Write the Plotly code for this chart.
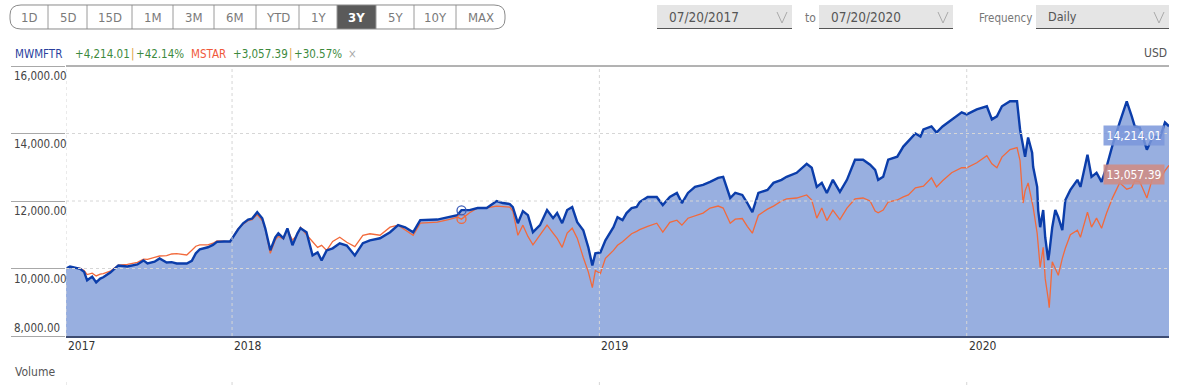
import plotly.graph_objects as go

# ---------------- data ----------------
dates = [
    "2017-07-20", "2017-07-24", "2017-07-30", "2017-08-03", "2017-08-07", "2017-08-10", "2017-08-15",
    "2017-08-19", "2017-08-23", "2017-08-26", "2017-09-02", "2017-09-10", "2017-09-19", "2017-09-29",
    "2017-10-05", "2017-10-09", "2017-10-16", "2017-10-21", "2017-10-28", "2017-11-02", "2017-11-07",
    "2017-11-12", "2017-11-17", "2017-11-22", "2017-11-26", "2017-11-30", "2017-12-08", "2017-12-13",
    "2017-12-17", "2017-12-24", "2017-12-30", "2018-01-02", "2018-01-07", "2018-01-12", "2018-01-17",
    "2018-01-21", "2018-01-26", "2018-01-31", "2018-02-03", "2018-02-08", "2018-02-13", "2018-02-16",
    "2018-02-21", "2018-02-25", "2018-03-02", "2018-03-07", "2018-03-10", "2018-03-16", "2018-03-22",
    "2018-03-27", "2018-03-31", "2018-04-05", "2018-04-11", "2018-04-18", "2018-04-25", "2018-05-03",
    "2018-05-11", "2018-05-18", "2018-05-28", "2018-06-07", "2018-06-15", "2018-06-22", "2018-06-30",
    "2018-07-07", "2018-07-14", "2018-07-24", "2018-08-04", "2018-08-13", "2018-08-17", "2018-08-25",
    "2018-09-02", "2018-09-11", "2018-09-21", "2018-09-27", "2018-10-04", "2018-10-07", "2018-10-12",
    "2018-10-17", "2018-10-22", "2018-10-27", "2018-11-03", "2018-11-10", "2018-11-16", "2018-11-20",
    "2018-11-25", "2018-11-30", "2018-12-05", "2018-12-10", "2018-12-16", "2018-12-21", "2018-12-25",
    "2018-12-28", "2019-01-02", "2019-01-07", "2019-01-15", "2019-01-19", "2019-01-24", "2019-01-28",
    "2019-02-02", "2019-02-07", "2019-02-10", "2019-02-18", "2019-02-27", "2019-03-05", "2019-03-12",
    "2019-03-19", "2019-03-24", "2019-03-30", "2019-04-06", "2019-04-14", "2019-04-21", "2019-04-29",
    "2019-05-04", "2019-05-11", "2019-05-16", "2019-05-23", "2019-05-28", "2019-06-02", "2019-06-08",
    "2019-06-17", "2019-06-23", "2019-07-01", "2019-07-06", "2019-07-16", "2019-07-26", "2019-07-31",
    "2019-08-05", "2019-08-10", "2019-08-15", "2019-08-21", "2019-08-28", "2019-09-04", "2019-09-12",
    "2019-09-20", "2019-09-27", "2019-10-02", "2019-10-05", "2019-10-10", "2019-10-15", "2019-10-24",
    "2019-10-30", "2019-11-04", "2019-11-11", "2019-11-16", "2019-11-19", "2019-11-27", "2019-12-02",
    "2019-12-08", "2019-12-17", "2019-12-27", "2020-01-01", "2020-01-11", "2020-01-21", "2020-01-26",
    "2020-01-31", "2020-02-05", "2020-02-13", "2020-02-20", "2020-02-23", "2020-02-26", "2020-02-28",
    "2020-03-02", "2020-03-06", "2020-03-07", "2020-03-11", "2020-03-12", "2020-03-14", "2020-03-17",
    "2020-03-19", "2020-03-22", "2020-03-23", "2020-03-26", "2020-03-29", "2020-04-01", "2020-04-05",
    "2020-04-08", "2020-04-13", "2020-04-20", "2020-04-23", "2020-04-30", "2020-05-04", "2020-05-09",
    "2020-05-14", "2020-05-19", "2020-05-25", "2020-06-01", "2020-06-08", "2020-06-13", "2020-06-16",
    "2020-06-21", "2020-06-28", "2020-07-04", "2020-07-11", "2020-07-16", "2020-07-20",
]
mwmftr = [
    10000, 10060, 10020, 9990, 9900, 9650, 9760, 9590, 9700, 9740, 9880, 10090, 10060, 10120,
    10240, 10150, 10200, 10300, 10180, 10190, 10150, 10140, 10150, 10230, 10450, 10570, 10630, 10700,
    10790, 10800, 10800, 10930, 11160, 11340, 11450, 11480, 11670, 11490, 11190, 10540, 10920, 11040,
    10900, 11190, 10690, 11040, 11194, 11075, 10388, 10478, 10239, 10537, 10597, 10746, 10680, 10388,
    10750, 10836, 10895, 11075, 11284, 11220, 11075, 11433, 11433, 11450, 11522, 11582, 11731, 11731,
    11791, 11791, 12000, 11940, 11910, 11821, 11343, 11701, 11582, 11075, 11284, 11731, 11492, 11642,
    11343, 11731, 11821, 11373, 11134, 10627, 10090, 10448, 10478, 10836, 11224, 11522, 11433, 11642,
    11791, 11821, 11970, 12119, 12119, 11881, 12119, 12239, 11940, 12239, 12418, 12478, 12567, 12686,
    12716, 12089, 12239, 12179, 11940, 11672, 12239, 12328, 12537, 12627, 12716, 12836, 13104, 12985,
    12418, 12537, 12239, 12627, 12269, 12627, 13224, 13224, 13075, 12925, 12627, 12716, 13224, 13313,
    13612, 13761, 14000, 13910, 14119, 14209, 14030, 14209, 14418, 14627, 14567, 14716, 14806, 14418,
    14507, 14806, 14955, 14955, 14119, 13612, 13313, 13880, 13433, 13015, 12418, 11731, 11224, 11731,
    10925, 10250, 10450, 11224, 11731, 11522, 11134, 12030, 12328, 12627, 12418, 13373, 12716, 12836,
    12567, 13015, 13672, 14328, 14955, 14507, 14209, 14179, 13522, 13910, 13880, 14328, 14214.01,
]
mstar = [
    10000, 10040, 10020, 10000, 9940, 9820, 9860, 9780, 9830, 9850, 9920, 10100, 10120, 10180,
    10280, 10270, 10330, 10370, 10380, 10430, 10440, 10410, 10400, 10540, 10660, 10700, 10700, 10750,
    10820, 10810, 10790, 10940, 11180, 11310, 11420, 11450, 11600, 11420, 11170, 10450, 10850, 10950,
    10880, 11150, 10840, 11000, 11224, 11000, 10800, 10627, 10687, 10537, 10800, 10925, 10776, 10650,
    10985, 11030, 10985, 11224, 11284, 11134, 10985, 11343, 11360, 11373, 11450, 11522, 11463, 11650,
    11791, 11800, 11851, 11840, 11821, 11700, 10985, 11284, 10950, 10700, 11000, 11284, 11050, 10895,
    10627, 11050, 11194, 10900, 10328, 9900, 9433, 9940, 9851, 10299, 10537, 10687, 10790, 10895,
    11030, 11100, 11150, 11250, 11343, 11075, 11370, 11430, 11284, 11490, 11550, 11640, 11791, 11851,
    11791, 11343, 11460, 11480, 11250, 11045, 11580, 11760, 11850, 12000, 12060, 12089, 12179, 12030,
    11492, 11791, 11420, 11731, 11450, 11791, 12060, 12089, 12000, 11700, 11650, 11731, 11970, 12030,
    12120, 12180, 12388, 12418, 12440, 12686, 12418, 12600, 12836, 12985, 12985, 13134, 13343, 13100,
    12985, 13300, 13522, 13582, 13200, 11940, 12300, 12537, 12000, 11821, 11045, 10600, 10030, 10627,
    9700, 9100, 8836, 10200, 9990, 9800, 10300, 10600, 11000, 11134, 10925, 11672, 11224, 11492,
    11194, 11642, 12100, 12537, 12350, 12400, 12600, 12567, 12089, 12716, 12627, 12900, 13057.39,
]
event_dates = ["2018-08-17"]
event_mwmftr = [11720]
event_mstar = [11470]

y_tick_vals = [8000, 10000, 12000, 14000, 16000]
y_tick_text = ["8,000.00", "10,000.00", "12,000.00", "14,000.00", "16,000.00"]
x_tick_vals = ["2017-07-20", "2018-01-01", "2019-01-01", "2020-01-01"]
x_tick_text = ["2017", "2018", "2019", "2020"]

range_buttons = ["1D", "5D", "15D", "1M", "3M", "6M", "YTD", "1Y", "3Y", "5Y", "10Y", "MAX"]
selected_range = "3Y"
start_label, end_label, frequency = "07/20/2017", "07/20/2020", "Daily"
series_names = ["MWMFTR", "MSTAR"]

# ---------------- layout geometry ----------------
W, H = 1181, 387
L, R, T, B = 66, 12, 66, 51
PW, PH = W - L - R, H - T - B
FONT = "'Liberation Sans Narrow', 'DejaVu Sans Condensed', sans-serif"

def px(x):
    return (x - L) / PW

def py(y):
    return (H - B - y) / PH

BLUE = "#0b3daa"
FILL = "#98afe0"
ORANGE = "#f26a3c"
GREEN = "#3d8a3d"

fig = go.Figure()
fig.add_trace(go.Scatter(x=dates, y=mwmftr, mode="lines", line=dict(width=0, color=BLUE),
                         fill="tozeroy", fillcolor=FILL, hoverinfo="skip", showlegend=False))
fig.add_trace(go.Scatter(x=dates, y=mstar, mode="lines", name=series_names[1],
                         line=dict(width=1.3, color=ORANGE), showlegend=False))
fig.add_trace(go.Scatter(x=dates, y=mwmftr, mode="lines", name=series_names[0],
                         line=dict(width=2.4, color=BLUE), showlegend=False))
fig.add_trace(go.Scatter(x=event_dates, y=event_mstar, mode="markers", showlegend=False,
                         marker=dict(symbol="circle-open", size=9, color=ORANGE, line=dict(width=1.3))))
fig.add_trace(go.Scatter(x=event_dates, y=event_mwmftr, mode="markers", showlegend=False,
                         marker=dict(symbol="circle-open", size=9, color="#3a5bb8", line=dict(width=1.3))))

shapes = []
ann = []

# gridlines (drawn above the fill like in the reference)
for v in y_tick_vals[1:-1]:
    shapes.append(dict(type="line", xref="paper", yref="y", x0=0, x1=1, y0=v, y1=v,
                       line=dict(color="#d6d6d6", width=1, dash="dot"), layer="above"))
for d in x_tick_vals:
    shapes.append(dict(type="line", xref="x", yref="paper", x0=d, x1=d, y0=0, y1=1,
                       line=dict(color="#d6d6d6", width=1, dash="dot"), layer="above"))
    shapes.append(dict(type="line", xref="x", yref="paper", x0=d, x1=d, y0=py(382), y1=py(390),
                       line=dict(color="#d6d6d6", width=1, dash="dot"), layer="above"))
# top border of the plot
shapes.append(dict(type="line", xref="paper", yref="paper", x0=0, x1=px(1169), y0=1, y1=1,
                   line=dict(color="#666666", width=1)))

# y tick labels (left aligned, below their tick line; bottom one above)
for v, t in zip(y_tick_vals, y_tick_text):
    ann.append(dict(x=px(12), xref="paper", xanchor="left", y=v, yref="y", yanchor="middle",
                    yshift=(8 if v == y_tick_vals[0] else -10), text=t, showarrow=False,
                    font=dict(family=FONT, size=11.5, color="#444444")))
# x tick labels (left aligned at their gridline)
for d, t in zip(x_tick_vals, x_tick_text):
    ann.append(dict(x=d, xref="x", xanchor="left", xshift=0, y=py(346), yref="paper", yanchor="middle",
                    text=t, showarrow=False, font=dict(family=FONT, size=12, color="#333333")))

# ---------------- range buttons ----------------
edges = [10, 48, 87, 132, 173, 214, 256, 299, 337, 376, 414, 456, 505]
by0, by1 = 5, 29
for i, lab in enumerate(range_buttons):
    xa, xb = edges[i], edges[i + 1]
    if lab == selected_range:
        shapes.append(dict(type="rect", xref="paper", yref="paper", x0=px(xa), x1=px(xb),
                           y0=py(by0), y1=py(by1), fillcolor="#5a5a5a", line=dict(width=0)))
    ann.append(dict(x=px((xa + xb) / 2), xref="paper", y=py((by0 + by1) / 2 + 0.5), yref="paper",
                    xanchor="center", yanchor="middle", showarrow=False,
                    text=("<b>%s</b>" % lab if lab == selected_range else lab),
                    font=dict(family=FONT, size=13, color=("#ffffff" if lab == selected_range else "#7a7a7a"))))
for xe in edges[1:-1]:
    shapes.append(dict(type="line", xref="paper", yref="paper", x0=px(xe), x1=px(xe),
                       y0=py(by0), y1=py(by1), line=dict(color="#9a9a9a", width=1)))
rr = 11
x0, x1 = edges[0], edges[-1]
pts = [("M", x0 + rr, by0), ("L", x1 - rr, by0), ("Q", x1, by0, x1, by0 + rr - 1), ("L", x1, by1 - rr + 1),
       ("Q", x1, by1, x1 - rr, by1), ("L", x0 + rr, by1), ("Q", x0, by1, x0, by1 - rr + 1),
       ("L", x0, by0 + rr - 1), ("Q", x0, by0, x0 + rr, by0)]
path = ""
for p in pts:
    if p[0] == "Q":
        path += "Q%.5f,%.5f %.5f,%.5f " % (px(p[1]), py(p[2]), px(p[3]), py(p[4]))
    else:
        path += "%s%.5f,%.5f " % (p[0], px(p[1]), py(p[2]))
path += "Z"
shapes.append(dict(type="path", xref="paper", yref="paper", path=path,
                   line=dict(color="#8a8a8a", width=1), fillcolor="rgba(0,0,0,0)"))

# ---------------- date / frequency boxes ----------------
boxes = [(657, 792, start_label, 13.5), (819, 953, end_label, 13.5), (1036, 1169, frequency, 12.5)]
for xa, xb, lab, fs in boxes:
    shapes.append(dict(type="rect", xref="paper", yref="paper", x0=px(xa), x1=px(xb),
                       y0=py(5), y1=py(28), fillcolor="#e5e5e5", line=dict(width=0)))
    shapes.append(dict(type="line", xref="paper", yref="paper", x0=px(xa), x1=px(xb),
                       y0=py(28.5), y1=py(28.5), line=dict(color="#555555", width=1.2)))
    cx = xb - 10
    shapes.append(dict(type="path", xref="paper", yref="paper",
                       path="M%.5f,%.5f L%.5f,%.5f L%.5f,%.5f" % (px(cx - 5), py(12), px(cx), py(23),
                                                                   px(cx + 5), py(12)),
                       line=dict(color="#aaaaaa", width=1)))
    ann.append(dict(x=px(xa + 10), xref="paper", xanchor="left", y=py(17), yref="paper", yanchor="middle",
                    text=lab, showarrow=False, font=dict(family=FONT, size=fs, color="#555555")))
ann.append(dict(x=px(803), xref="paper", xanchor="left", y=py(18), yref="paper", yanchor="middle",
                text="to", showarrow=False, font=dict(family=FONT, size=12, color="#777777")))
ann.append(dict(x=px(977), xref="paper", xanchor="left", y=py(18), yref="paper", yanchor="middle",
                text="Frequency", showarrow=False, font=dict(family=FONT, size=11.5, color="#777777")))

# ---------------- legend row ----------------
def chg(s):
    c = s[-1] - s[0]
    return "+{:,.2f}".format(c), "+{:.2f}%".format(c / s[0] * 100)

c1, p1 = chg(mwmftr)
c2, p2 = chg(mstar)
legend_items = [
    (13, series_names[0], "#2a3f9e"), (73, c1, GREEN), (128.5, "|", "#e0a23a"), (134, p1, GREEN),
    (189, series_names[1], "#f0583a"), (231, c2, GREEN), (286.5, "|", "#e0a23a"), (292, p2, GREEN),
    (346, "×", "#aaaaaa"),
]
for xx, t, col in legend_items:
    ann.append(dict(x=px(xx), xref="paper", xanchor="left", y=py(54), yref="paper", yanchor="middle",
                    text=t, showarrow=False, font=dict(family=FONT, size=11.5, color=col)))
ann.append(dict(x=px(1169), xref="paper", xanchor="right", y=py(53), yref="paper", yanchor="middle",
                text="USD", showarrow=False, font=dict(family=FONT, size=12, color="#555555")))
ann.append(dict(x=px(13), xref="paper", xanchor="left", y=py(372), yref="paper", yanchor="middle",
                text="Volume", showarrow=False, font=dict(family=FONT, size=12, color="#555555")))

# ---------------- last value labels ----------------
ann.append(dict(x=px(1165), xref="paper", xanchor="right", y=mwmftr[-1], yref="y", yanchor="middle",
                yshift=-9.5, text="{:,.2f}".format(mwmftr[-1]), showarrow=False, width=58, height=17,
                bgcolor="rgba(122,150,218,0.85)", borderpad=1,
                font=dict(family=FONT, size=12, color="#ffffff")))
ann.append(dict(x=px(1165), xref="paper", xanchor="right", y=mstar[-1], yref="y", yanchor="middle",
                yshift=-9.5, text="{:,.2f}".format(mstar[-1]), showarrow=False, width=58, height=17,
                bgcolor="rgba(206,140,132,0.88)", borderpad=1,
                font=dict(family=FONT, size=12, color="#ffffff")))

fig.update_layout(
    width=W, height=H, margin=dict(l=L, r=R, t=T, b=B, pad=0),
    paper_bgcolor="white", plot_bgcolor="white",
    shapes=shapes, annotations=ann, showlegend=False,
    font=dict(family=FONT, size=12, color="#444444"),
    xaxis=dict(range=["2017-07-20", "2020-07-20"], type="date", showgrid=False, zeroline=False,
               showticklabels=False, ticks="", showline=True, linecolor="#3d4c72", linewidth=2),
    yaxis=dict(range=[8000, 16000], tickvals=y_tick_vals, showticklabels=False, ticks="outside",
               ticklen=54, tickcolor="#a8a8a8", tickwidth=1, showgrid=False, zeroline=False,
               showline=False),
)
fig.write_html("out.html", config={"displayModeBar": False},
               post_script="document.body.style.margin='0';document.body.style.overflow='hidden';")
